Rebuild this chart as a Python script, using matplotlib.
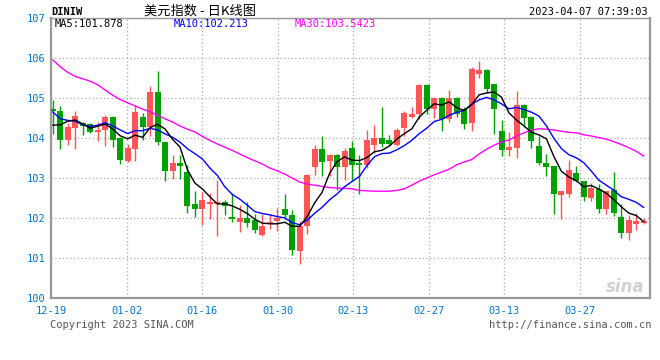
import numpy as np
import pandas as pd
import matplotlib
matplotlib.use("Agg")
import matplotlib.pyplot as plt

# daily candles of the dollar index (DINIW)
opens = [104.73, 104.68, 103.94, 104.24, 104.37, 104.36, 104.14, 104.19, 104.53, 104.00,
         103.43, 103.73, 104.53, 104.27, 105.14, 103.91, 103.17, 103.37, 103.14, 102.34,
         102.23, 102.35, 102.34, 102.41, 102.03, 101.89, 102.01, 101.94, 101.58, 101.85,
         101.92, 102.23, 102.08, 101.17, 101.79, 103.28, 103.73, 103.42, 103.57, 103.27,
         103.74, 103.38, 103.33, 103.83, 104.00, 103.96, 103.83, 104.25, 104.52, 104.61,
         105.32, 104.72, 105.00, 104.47, 105.00, 104.72, 104.38, 105.61, 105.71, 105.35,
         104.17, 103.69, 103.75, 104.82, 104.52, 103.79, 103.37, 103.29, 102.57, 102.60,
         103.12, 102.92, 102.50, 102.73, 102.23, 102.70, 102.03, 101.63, 101.86, 101.88]
closes = [104.67, 103.94, 104.27, 104.56, 104.30, 104.14, 104.21, 104.53, 103.94, 103.46,
          103.76, 104.66, 104.27, 105.14, 103.89, 103.17, 103.37, 103.30, 102.29, 102.23,
          102.44, 102.39, 102.41, 102.30, 101.97, 102.01, 101.87, 101.70, 101.81, 101.89,
          102.00, 102.07, 101.20, 101.81, 103.08, 103.73, 103.39, 103.57, 103.27, 103.68,
          103.33, 103.33, 103.94, 104.00, 103.86, 103.86, 104.21, 104.62, 104.60, 105.33,
          104.72, 105.00, 104.47, 105.00, 104.61, 104.35, 105.73, 105.71, 105.23, 104.73,
          103.69, 103.77, 104.82, 104.50, 103.92, 103.38, 103.28, 102.60, 102.67, 103.19,
          102.92, 102.53, 102.75, 102.23, 102.67, 102.13, 101.63, 101.96, 101.92, 101.92]
highs = [104.96, 104.79, 104.37, 104.67, 104.39, 104.38, 104.40, 104.58, 104.55, 104.02,
         103.85, 104.83, 104.62, 105.29, 105.67, 103.93, 103.58, 103.57, 103.33, 102.67,
         102.65, 102.63, 102.96, 102.44, 102.63, 102.33, 102.41, 102.10, 102.10, 102.10,
         102.25, 102.61, 102.19, 101.93, 103.10, 103.83, 104.04, 103.60, 103.61, 103.75,
         103.92, 103.58, 104.19, 104.32, 104.77, 104.08, 104.25, 104.68, 104.77, 105.35,
         105.35, 105.02, 105.02, 105.21, 105.02, 104.77, 105.77, 105.92, 105.73, 105.36,
         104.46, 104.14, 105.18, 104.86, 104.54, 104.04, 103.60, 103.30, 102.68, 103.44,
         103.31, 102.93, 102.87, 102.85, 102.68, 103.16, 102.34, 102.08, 102.13, 102.00]
lows = [104.11, 103.73, 103.83, 103.73, 104.08, 104.12, 103.93, 103.81, 103.77, 103.36,
        103.40, 103.43, 103.95, 104.04, 103.83, 102.92, 102.98, 102.98, 102.12, 102.03,
        101.83, 101.98, 101.56, 102.08, 101.89, 101.64, 101.77, 101.63, 101.54, 101.73,
        101.68, 101.98, 101.07, 100.85, 101.60, 103.07, 103.06, 103.06, 102.71, 102.96,
        102.96, 102.60, 103.25, 103.63, 103.78, 103.82, 103.80, 104.04, 104.50, 104.47,
        104.60, 104.50, 104.18, 104.39, 104.53, 104.23, 104.17, 105.50, 105.12, 104.10,
        103.54, 103.54, 103.50, 104.28, 103.75, 103.32, 103.06, 102.09, 101.98, 102.52,
        102.89, 102.43, 102.43, 102.12, 102.09, 102.04, 101.50, 101.45, 101.71, 101.85]

ma5_head = [104.32, 104.33, 104.42, 104.45]
ma10_head = [104.65, 104.48, 104.44, 104.42, 104.33, 104.29, 104.32, 104.38, 104.30]
ma30 = [105.95, 105.78, 105.64, 105.54, 105.48, 105.42, 105.33, 105.20, 105.07, 104.96,
        104.88, 104.80, 104.72, 104.66, 104.57, 104.48, 104.40, 104.30, 104.22, 104.15,
        104.04, 103.94, 103.85, 103.77, 103.69, 103.60, 103.51, 103.43, 103.35, 103.25,
        103.18, 103.10, 103.00, 102.90, 102.85, 102.82, 102.79, 102.76, 102.75, 102.74,
        102.73, 102.69, 102.68, 102.67, 102.67, 102.67, 102.69, 102.73, 102.82, 102.92,
        103.00, 103.08, 103.15, 103.22, 103.33, 103.40, 103.46, 103.60, 103.72, 103.82,
        103.90, 103.95, 104.05, 104.13, 104.20, 104.23, 104.22, 104.20, 104.17, 104.14,
        104.13, 104.08, 104.05, 104.01, 103.97, 103.91, 103.84, 103.76, 103.67, 103.55]

date_labels = ['12-19', '01-02', '01-16', '01-30', '02-13', '02-27', '03-13', '03-27']
date_idx = [0, 10, 20, 30, 40, 50, 60, 70]
y_ticks = [100, 101, 102, 103, 104, 105, 106, 107]

df = pd.DataFrame({'open': opens, 'close': closes, 'high': highs, 'low': lows})
df['ma5'] = df['close'].rolling(5).mean()
df['ma10'] = df['close'].rolling(10).mean()
df.loc[:len(ma5_head) - 1, 'ma5'] = ma5_head
df.loc[:len(ma10_head) - 1, 'ma10'] = ma10_head
df['ma30'] = ma30

RED = '#ff5555'
GREEN = '#00a000'
BLUE_TXT = '#0077cc'
MONO = 'DejaVu Sans Mono'
W, H = 660, 360

fig = plt.figure(figsize=(6.6, 3.6), dpi=100)
ax = fig.add_axes([51 / W, 62 / H, 599 / W, 280 / H])

x = np.arange(len(df))
up = df['close'] >= df['open']
colors = np.where(up, RED, GREEN)

# wicks and bodies
ax.vlines(x, df['low'], df['high'], colors=colors, linewidth=1.0, zorder=3)
body_low = np.minimum(df['open'], df['close'])
body_h = np.maximum((df['close'] - df['open']).abs(), 0.03)
ax.bar(x, body_h, bottom=body_low, width=0.8, color=colors, linewidth=0, zorder=4)

# moving average lines
ax.plot(x, df['ma30'], color='#ff00ff', linewidth=1.0, zorder=5)
ax.plot(x, df['ma10'], color='#0000ff', linewidth=1.0, zorder=5)
ax.plot(x, df['ma5'], color='black', linewidth=1.0, zorder=6)

ax.set_xlim(-0.25, 79.85)
ax.set_ylim(100, 107)
tick_x = np.array(date_idx) * 1.01 - 0.25
ax.set_xticks(tick_x)
ax.set_xticklabels(date_labels)
ax.set_yticks(y_ticks)
ax.tick_params(length=0, labelsize=7.5, labelcolor=BLUE_TXT, pad=4)
ax.tick_params(axis='x', pad=6)
for lab in ax.get_xticklabels() + ax.get_yticklabels():
    lab.set_family(MONO)
ax.grid(True, color='#aaaaaa', linestyle=(0, (1, 2)), linewidth=0.9)
ax.set_axisbelow(True)
for side in ['left', 'bottom', 'right', 'top']:
    ax.spines[side].set_color('#999999')
    ax.spines[side].set_linewidth(1.6)
ax.spines['top'].set_linewidth(1.0)

# legend texts inside the plot
fig.text(54.5 / W, 1 - 24 / H, 'MA5:101.878', color='black', fontsize=7.5, family=MONO, va='center')
fig.text(174 / W, 1 - 24 / H, 'MA10:102.213', color='#0000ff', fontsize=7.5, family=MONO, va='center')
fig.text(295 / W, 1 - 24 / H, 'MA30:103.5423', color='#ff00ff', fontsize=7.5, family=MONO, va='center')

# header
fig.text(51 / W, 1 - 12 / H, 'DINIW', color='black', fontsize=7.5, family=MONO, weight='bold', va='center')
fig.text(200 / W, 1 - 11 / H, '美元指数 - 日K线图', fontsize=9.5, ha='center', va='center',
         family=['Noto Sans CJK SC', 'DejaVu Sans'])
fig.text(648 / W, 1 - 12 / H, '2023-04-07 07:39:03', fontsize=7.5, family=MONO, ha='right', va='center')

# footer
fig.text(50 / W, 1 - 325 / H, 'Copyright 2023 SINA.COM', color='#555555', fontsize=7.5, family=MONO, va='center')
fig.text(651 / W, 1 - 325 / H, 'http://finance.sina.com.cn', color='#555555', fontsize=7.5, family=MONO,
         ha='right', va='center')

# sina watermark
fig.text(645 / W, 1 - 287 / H, 'sina', color='#d0d0d0', fontsize=12, weight='bold', style='italic',
         ha='right', va='center')

fig.savefig('out.png', dpi=100, facecolor='white')
